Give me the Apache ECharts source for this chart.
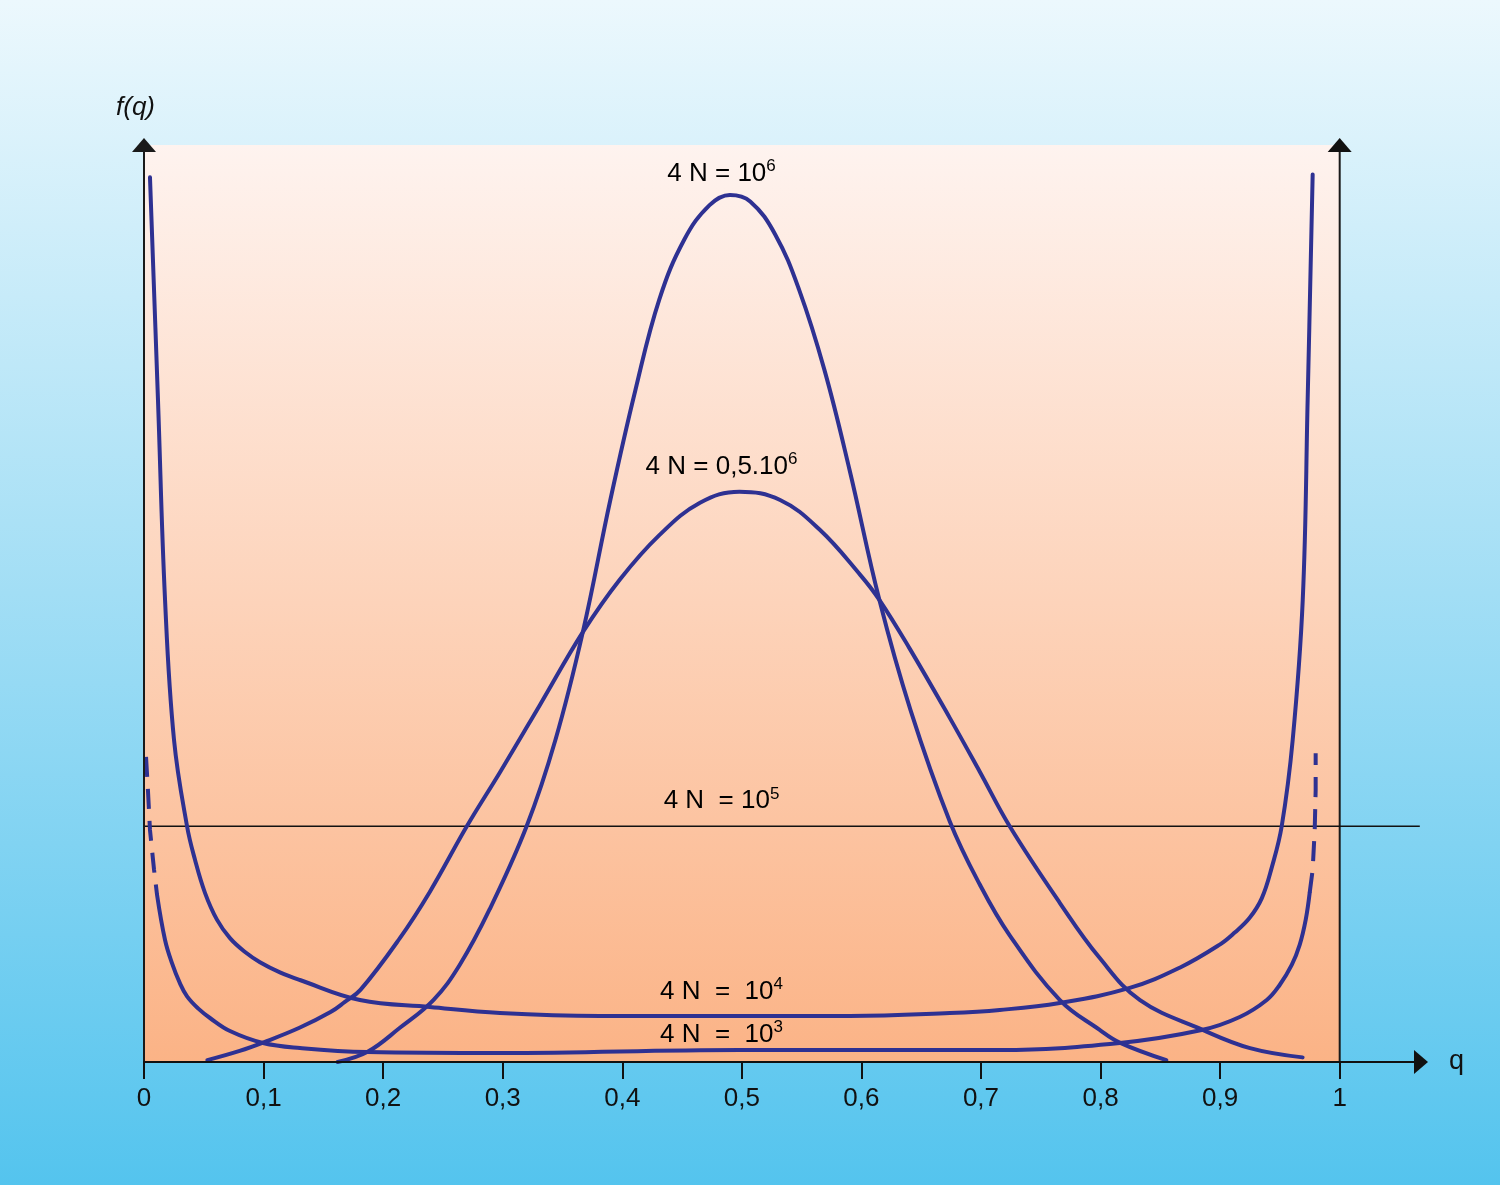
<!DOCTYPE html>
<html><head><meta charset="utf-8">
<script src="https://cdn.jsdelivr.net/npm/echarts@6/dist/echarts.min.js"></script>
<style>html,body{margin:0;padding:0;}#c{width:1500px;height:1185px;}</style>
</head><body><div id="c"></div>
<script>
// 4N = 10^6
const q_1e6 = [0.162, 0.187, 0.214, 0.242, 0.264, 0.289, 0.320, 0.344, 0.367, 0.390, 0.411, 0.431, 0.452, 0.473, 0.490, 0.507, 0.528, 0.548, 0.569, 0.590, 0.615, 0.641, 0.674, 0.699, 0.724, 0.766, 0.799, 0.816, 0.855];
const f_1e6 = [0, 1.1, 3.7, 6.7, 10.5, 16.5, 25.5, 34.8, 46.5, 60.8, 72.7, 82.5, 89.0, 92.7, 93.8, 93.1, 89.5, 83.5, 74.9, 64.1, 50.0, 38.1, 26.0, 19.2, 13.7, 6.7, 3.5, 2.1, 0.2];
// 4N = 0,5.10^6
const q_5e5 = [0.053, 0.080, 0.0995, 0.130, 0.156, 0.168, 0.181, 0.214, 0.239, 0.270, 0.298, 0.331, 0.367, 0.398, 0.431, 0.465, 0.498, 0.532, 0.565, 0.599, 0.615, 0.640, 0.674, 0.699, 0.724, 0.766, 0.799, 0.833, 0.885, 0.925, 0.969];
const f_5e5 = [0.2, 1.2, 2.1, 3.7, 5.4, 6.5, 7.8, 13.4, 18.4, 25.5, 31.4, 38.6, 46.5, 52.2, 57.0, 60.5, 61.7, 60.8, 57.6, 52.7, 50.0, 44.8, 37.2, 31.4, 25.5, 17.2, 11.3, 6.7, 3.5, 1.5, 0.5];
// 4N = 10^5 (flat)
const q_1e5 = [0, 1.067];
const f_1e5 = [25.5, 25.5];
// 4N = 10^4
const q_1e4 = [0.005, 0.0117, 0.0176, 0.0251, 0.036, 0.0426, 0.0510, 0.0610, 0.0719, 0.0845, 0.097, 0.1137, 0.1304, 0.1806, 0.2391, 0.2977, 0.3813, 0.4983, 0.5903, 0.6739, 0.7157, 0.7659, 0.8244, 0.8662, 0.8997, 0.9122, 0.9247, 0.9348, 0.9431, 0.9515, 0.9607, 0.9691, 0.9732, 0.9774];
const f_1e4 = [95.7, 71.6, 50.0, 34.85, 25.5, 21.9, 18.3, 15.4, 13.4, 11.9, 10.8, 9.7, 8.87, 6.71, 5.95, 5.30, 4.98, 4.98, 4.98, 5.30, 5.63, 6.39, 8.01, 10.2, 12.7, 14.0, 15.6, 17.7, 21.0, 25.5, 34.85, 50.0, 71.6, 96.0];
// 4N = 10^3 (solid middle part, dashed near the borders)
const q_1e3 = [0.0109, 0.0176, 0.0234, 0.0301, 0.036, 0.0452, 0.0552, 0.0719, 0.0995, 0.1304, 0.1865, 0.2977, 0.4983, 0.7157, 0.8161, 0.8846, 0.9164, 0.939, 0.9498, 0.9599, 0.9666, 0.9716, 0.9749];
const f_1e3 = [18.1, 13.2, 10.7, 8.5, 7.1, 5.8, 4.76, 3.35, 2.06, 1.52, 1.08, 0.97, 1.30, 1.30, 2.06, 3.46, 4.87, 6.71, 8.33, 10.5, 12.7, 15.4, 18.3];
const q_1e3_left = [0.0017, 0.0033, 0.005, 0.0084, 0.0109];
const f_1e3_left = [33.0, 29.4, 25.1, 20.8, 18.1];
const q_1e3_right = [0.9749, 0.9774, 0.9791, 0.9799, 0.9799];
const f_1e3_right = [18.3, 20.8, 25.1, 29.4, 33.4];

// curve labels
const labelQ = [0.483, 0.483, 0.483, 0.483, 0.483];
const labelF = [96.1, 64.4, 28.2, 7.6, 2.9];
const labelMain = ['4 N = 10', '4 N = 0,5.10', '4 N  = 10', '4 N  =  10', '4 N  =  10'];
const labelSup = ['6', '6', '5', '4', '3'];

// axis ticks
const xTicks = [0, 0.1, 0.2, 0.3, 0.4, 0.5, 0.6, 0.7, 0.8, 0.9, 1];
const xTickLabels = ['0', '0,1', '0,2', '0,3', '0,4', '0,5', '0,6', '0,7', '0,8', '0,9', '1'];
const plotQ = [0, 1];
const plotF = [0, 99.2];

const zip = (a, b) => a.map((v, i) => [v, b[i]]);
const BLUE = '#2e3192';
const FONT = 'Liberation Sans, Arial, sans-serif';

const chart = echarts.init(document.getElementById('c'));
const curve = (name, q, f, extra) => Object.assign({
  name, type: 'line', data: zip(q, f), smooth: 0.4, showSymbol: false, z: 5,
  lineStyle: { color: BLUE, width: 4, cap: 'round' }, silent: true
}, extra || {});

chart.setOption({
  animation: false,
  backgroundColor: new echarts.graphic.LinearGradient(0, 0, 0, 1, [
    { offset: 0, color: '#ecf8fd' }, { offset: 0.5, color: '#a2def5' }, { offset: 1, color: '#54c4ee' }
  ]),
  grid: { left: 144, right: 79, top: 145, bottom: 123 },
  xAxis: {
    type: 'value', min: 0, max: 1.068, z: 10,
    name: 'q', nameLocation: 'end', nameGap: 28,
    nameTextStyle: { fontSize: 27, color: '#111', fontFamily: FONT, verticalAlign: 'middle', padding: [12, 0, 0, 0] },
    axisLine: { show: true, symbol: ['none', 'triangle'], symbolSize: [24, 14], lineStyle: { color: '#111', width: 2 } },
    axisTick: { show: true, inside: false, length: 17, customValues: xTicks, lineStyle: { color: '#111', width: 2 } },
    axisLabel: {
      show: true, customValues: xTicks, margin: 24, fontSize: 26, color: '#111', fontFamily: FONT,
      formatter: v => { const i = xTicks.findIndex(t => Math.abs(t - v) < 1e-6); return i >= 0 ? xTickLabels[i] : ''; }
    },
    splitLine: { show: false }
  },
  yAxis: {
    type: 'value', min: 0, max: 99.2, z: 10,
    name: 'f(q)', nameLocation: 'end', nameGap: 24,
    nameTextStyle: { fontSize: 26, fontStyle: 'italic', color: '#111', fontFamily: FONT, align: 'right', padding: [0, -11, 0, 0] },
    axisLine: { show: true, symbol: ['none', 'triangle'], symbolSize: [24, 14], lineStyle: { color: '#1a1a1a', width: 2 } },
    axisTick: { show: false }, axisLabel: { show: false }, splitLine: { show: false }
  },
  series: [
    {
      type: 'line', data: [], silent: true, z: 0,
      markArea: {
        silent: true,
        itemStyle: {
          color: new echarts.graphic.LinearGradient(0, 0, 0, 1, [
            { offset: 0, color: '#fef3ef' }, { offset: 0.5, color: '#fdd3ba' }, { offset: 1, color: '#fbb386' }
          ])
        },
        data: [[{ coord: [plotQ[0], plotF[0]] }, { coord: [plotQ[1], plotF[1]] }]]
      }
    },
    // right border at q = 1 with arrow
    {
      type: 'line', silent: true, z: 4,
      data: [{ value: [plotQ[1], plotF[0]], symbol: 'none' }, { value: [plotQ[1], plotF[1]], symbol: 'triangle', symbolSize: [24, 14] }],
      showSymbol: true, showAllSymbol: true,
      lineStyle: { color: '#1a1a1a', width: 2 }, itemStyle: { color: '#111' }
    },
    curve('4N=10^5', q_1e5, f_1e5, { smooth: false, lineStyle: { color: '#111', width: 1.5 } }),
    curve('4N=10^6', q_1e6, f_1e6),
    curve('4N=0,5.10^6', q_5e5, f_5e5),
    curve('4N=10^4', q_1e4, f_1e4),
    curve('4N=10^3', q_1e3, f_1e3),
    curve('4N=10^3 left', q_1e3_left, f_1e3_left, { smooth: false, lineStyle: { color: BLUE, width: 4, type: [20, 12], cap: 'butt' } }),
    curve('4N=10^3 right', q_1e3_right, f_1e3_right, { smooth: false, lineStyle: { color: BLUE, width: 4, type: [20, 12], cap: 'butt' } }),
    {
      type: 'scatter', symbolSize: 0, silent: true, z: 6,
      itemStyle: { opacity: 1 },
      data: labelQ.map((q, i) => ({ value: [q, labelF[i]], idx: i })),
      label: {
        show: true, position: 'inside', color: '#000', textBorderWidth: 0, opacity: 1,
        formatter: p => '{t|' + labelMain[p.data.idx] + '}{s|' + labelSup[p.data.idx] + '}',
        rich: {
          t: { fontSize: 26, color: '#000', fontFamily: FONT, lineHeight: 32, textBorderWidth: 0 },
          s: { fontSize: 17, color: '#000', fontFamily: FONT, verticalAlign: 'top', lineHeight: 32, textBorderWidth: 0 }
        }
      }
    }
  ]
});
</script></body></html>
